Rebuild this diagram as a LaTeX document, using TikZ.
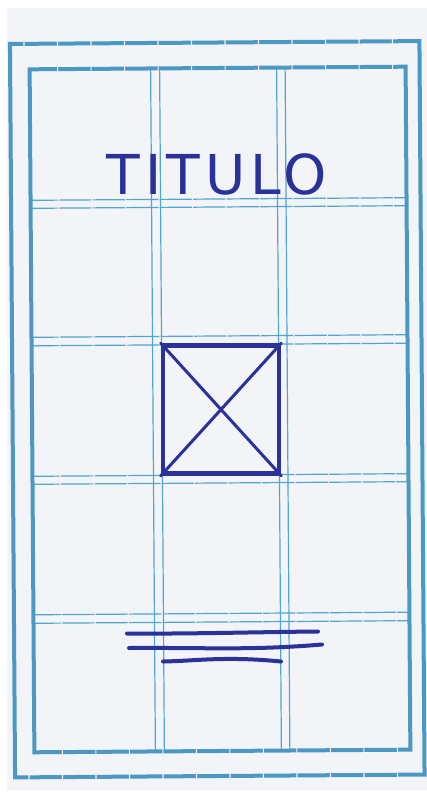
\documentclass[tikz,border=0pt]{standalone}
\usepackage{fontspec}
\usepackage{xcolor}
\usepackage{tikz}
\newfontfamily\handfont[LetterSpace=9]{DejaVu Sans}
\definecolor{gridFrame}{HTML}{4B98C2}
\definecolor{gridLine}{HTML}{4FA6D0}
\definecolor{gridTick}{HTML}{F5EEF1}
\definecolor{paperBg}{HTML}{F3F4F8}
\definecolor{penBlue}{HTML}{2A3199}
\tikzset{
  framerule/.style={draw=gridFrame,line width=4pt},
  guideline/.style={draw=gridLine,line width=1.2pt},
  tickgap/.style={draw=gridTick,line width=1.2pt},
  sketchbox/.style={rectangle,draw=penBlue,line width=4.5pt,line join=round,
    minimum width=116pt,minimum height=128pt,inner sep=0pt},
  sketchline/.style={draw=penBlue,line width=4pt,line cap=round},
  sketchcross/.style={draw=penBlue,line width=3pt,line cap=round},
  titletext/.style={text=penBlue,font=\handfont\fontsize{55}{55}\selectfont,inner sep=0pt}
}

\begin{document}
\begin{tikzpicture}[x=1pt,y=-1pt]
  \useasboundingbox (0,0) rectangle (427,794);
  \fill[white] (0,0) rectangle (427,794);
  \fill[paperBg] (7,8) rectangle (427,790);
  \begin{scope}[rotate around={0.4:(218,410)}]
    \foreach \yy in {199,207,336,344.5,475,483,613.5,622}
      \draw[guideline] (32,\yy) -- (408,\yy);
    \foreach \xx in {153,162,279,287.5}
      \draw[guideline] (\xx,68) -- (\xx,751);
    \draw[framerule] (12.5,42.5) rectangle (422,776);
    \draw[framerule] (32,68) rectangle (408,751);
    \foreach \k in {0,...,11}{
      \foreach \yy in {42.5,68,751,776}
        \draw[tickgap] (26.5+33.5*\k,\yy-2.5) -- ++(0,5);
      \foreach \yy in {199,207,336,344.5,475,483,613.5,622}
        \draw[tickgap] (26.5+33.5*\k,\yy-1) -- ++(0,2);
    }
  \end{scope}
  \node[titletext,anchor=base] (title) at (217,195) {TITULO};
  \node[sketchbox] (imgbox) at (221,409.5) {};
  \draw[sketchcross] (imgbox.north west) -- (imgbox.south east);
  \draw[sketchcross] (imgbox.north east) -- (imgbox.south west);
  \draw[sketchline] (127,633.5) .. controls (190,634) and (260,632) .. (318,631.5);
  \draw[sketchline] (129,648) .. controls (210,647.5) and (250,650.5) .. (322,644.5);
  \draw[sketchline] (163,661.5) .. controls (195,661) and (225,656) .. (281,661.5);
\end{tikzpicture}
\end{document}
